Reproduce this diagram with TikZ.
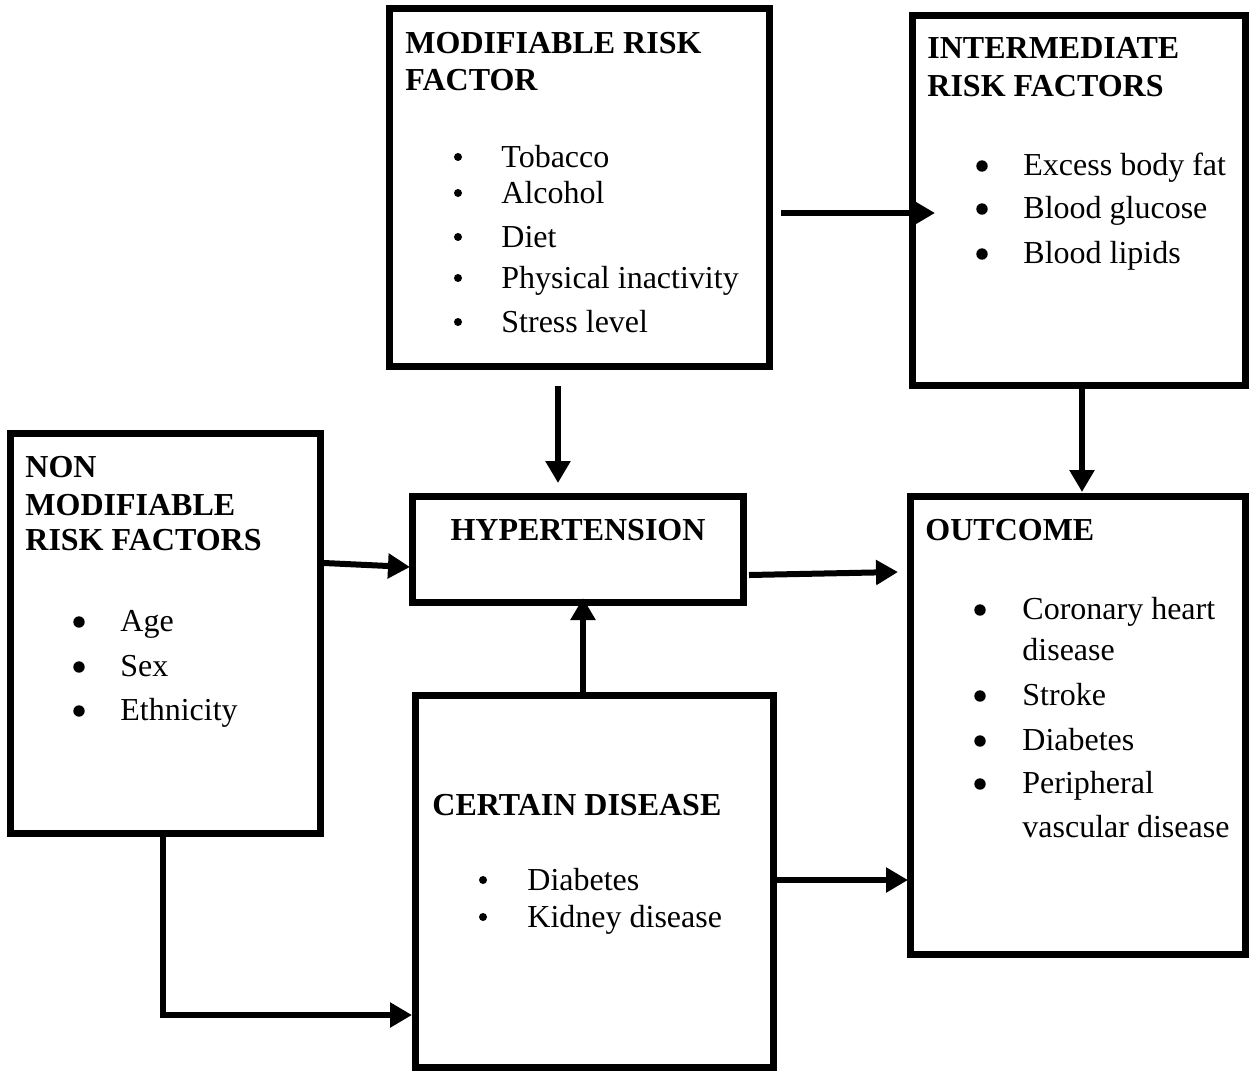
\documentclass[tikz,border=0pt]{standalone}
\usepackage{fontspec}
\setmainfont{Liberation Serif}
\usetikzlibrary{arrows.meta}
\begin{document}
\begin{tikzpicture}[x=0.5pt,y=-0.5pt,
  box/.style={draw,line width=3.5pt,inner sep=0pt,rectangle},
  txt/.style={anchor=base west,inner sep=0pt,font=\fontsize{16}{18.5}\selectfont},
  ttl/.style={anchor=base west,inner sep=0pt,font=\fontsize{16}{18.5}\selectfont\bfseries},
  arr/.style={line width=3pt,-{Triangle[length=11pt,width=12pt]}},
  arrline/.style={line width=3pt}]
\useasboundingbox (0,0) rectangle (1251,1072);
% boxes
\node[box,minimum width=190pt,minimum height=179pt] (mod) at (579.5,187.5) {};
\node[box,minimum width=166.5pt,minimum height=185pt] (inter) at (1079,200.5) {};
\node[box,minimum width=155pt,minimum height=200pt] (nonmod) at (165.5,633.5) {};
\node[box,minimum width=165.5pt,minimum height=53pt] (hyp) at (578,549.5) {};
\node[box,minimum width=167.5pt,minimum height=229pt] (outc) at (1078,725.5) {};
\node[box,minimum width=179pt,minimum height=186pt] (cert) at (594.5,881.5) {};
% modifiable
\node[ttl] (modt1) at (405,53) {MODIFIABLE RISK};
\node[ttl] (modt2) at (405,90) {FACTOR};
\node[txt] (mod1) at (501,167) {Tobacco};
\node[txt] (mod2) at (501,203) {Alcohol};
\node[txt] (mod3) at (501,247) {Diet};
\node[txt] (mod4) at (501,288) {Physical inactivity};
\node[txt] (mod5) at (501,332) {Stress level};
\foreach \y in {167,203,247,288,332} \fill (458,\y-10) circle (4);
% intermediate
\node[ttl] (intt1) at (927,58) {INTERMEDIATE};
\node[ttl] (intt2) at (927,96) {RISK FACTORS};
\node[txt] (int1) at (1023,175) {Excess body fat};
\node[txt] (int2) at (1023,218) {Blood glucose};
\node[txt] (int3) at (1023,263) {Blood lipids};
\foreach \y in {175,218,263} \fill (982,\y-9) circle (5.7);
% non modifiable
\node[ttl] (nmt1) at (25,477) {NON};
\node[ttl] (nmt2) at (25,515) {MODIFIABLE};
\node[ttl] (nmt3) at (25,550) {RISK FACTORS};
\node[txt] (nm1) at (120,631) {Age};
\node[txt] (nm2) at (120,676) {Sex};
\node[txt] (nm3) at (120,720) {Ethnicity};
\foreach \y in {631,676,720} \fill (79,\y-9) circle (5.7);
% hypertension
\node[anchor=base,inner sep=0pt,font=\fontsize{16}{18.5}\selectfont\bfseries] (hypt) at (578,540) {HYPERTENSION};
% outcome
\node[ttl] (outt) at (925,540) {OUTCOME};
\node[txt] (out1) at (1022,619) {Coronary heart};
\node[txt] (out1b) at (1022,660) {disease};
\node[txt] (out2) at (1022,705) {Stroke};
\node[txt] (out3) at (1022,750) {Diabetes};
\node[txt] (out4) at (1022,793) {Peripheral};
\node[txt] (out4b) at (1022,837) {vascular disease};
\foreach \y in {619,705,750,793} \fill (980,\y-9) circle (5.7);
% certain disease
\node[ttl] (certt) at (432,815) {CERTAIN DISEASE};
\node[txt] (cert1) at (527,890) {Diabetes};
\node[txt] (cert2) at (527,927) {Kidney disease};
\foreach \y in {890,927} \fill (483,\y-10) circle (4);
% connector end points
\coordinate (a1s) at (781,213);
\coordinate (a1e) at (935,213);
\coordinate (a2e) at (558,483);
\coordinate (a3e) at (1082,492);
\coordinate (a4e) at (410,567);
\coordinate (a5s) at (749,575);
\coordinate (a5e) at (898,572);
\coordinate (a6e) at (583,598);
\coordinate (a7e) at (908,880);
\coordinate (a8m) at (163,1015);
\coordinate (a8e) at (412,1015);
% connectors
\draw[arr] (a1s) -- (a1e);
\draw[arr] (mod.south -| a2e) ++(0,16) -- (a2e);
\draw[arr] (inter.south -| a3e) -- (a3e);
\draw[arr] (nonmod.east |- 0,563) -- (a4e);
\draw[arr] (a5s) -- (a5e);
\draw[arr] (cert.north -| a6e) -- (a6e);
\draw[arr] (cert.east |- a7e) -- (a7e);
\draw[arr] (nonmod.south -| a8m) -- (a8m) -- (a8e);
\end{tikzpicture}
\end{document}
